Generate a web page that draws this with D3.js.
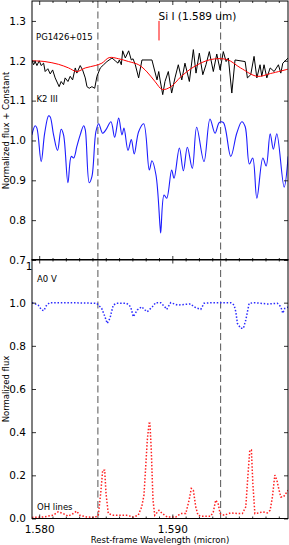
<!DOCTYPE html>
<html>
<head>
<meta charset="utf-8">
<script src="https://cdn.jsdelivr.net/npm/d3@7"></script>
<style>
body { margin: 0; background: #fff; }
text { font-family: "DejaVu Sans", sans-serif; fill: #000; }
</style>
</head>
<body>
<div id="chart"></div>
<script>
// PG1426+015 spectrum (black) and its smoothed version (red)
var pgWave = [1.57945,1.57958,1.57970,1.57983,1.58000,1.58015,1.58033,1.58045,1.58065,1.58083,
  1.58101,1.58120,1.58150,1.58165,1.58183,1.58195,1.58216,1.58233,1.58251,1.58271,
  1.58283,1.58308,1.58326,1.58346,1.58359,1.58376,1.58396,1.58417,1.58434,1.58459,
  1.58484,1.58509,1.58547,1.58571,1.58592,1.58602,1.58617,1.58627,1.58647,1.58672,
  1.58692,1.58705,1.58722,1.58747,1.58772,1.58847,1.58885,1.58898,1.58908,1.58928,
  1.58945,1.58970,1.58995,1.59020,1.59045,1.59071,1.59095,1.59128,1.59158,1.59178,
  1.59203,1.59229,1.59253,1.59278,1.59308,1.59334,1.59359,1.59383,1.59404,1.59421,
  1.59447,1.59471,1.59547,1.59564,1.59589,1.59614,1.59635,1.59659,1.59672,1.59689,
  1.59710,1.59735,1.59765,1.59797,1.59815,1.59830,1.59855,1.59870];
var pgFlux = [1.202,1.190,1.198,1.188,1.200,1.188,1.194,1.173,1.180,1.167,
  1.177,1.157,1.135,1.148,1.140,1.157,1.148,1.161,1.152,1.182,
  1.169,1.188,1.177,1.157,1.135,1.131,1.135,1.131,1.161,1.182,
  1.190,1.198,1.207,1.200,1.194,1.202,1.190,1.225,1.207,1.225,
  1.202,1.205,1.190,1.157,1.202,1.202,1.152,1.173,1.152,1.115,
  1.148,1.173,1.119,1.157,1.190,1.152,1.194,1.148,1.228,1.169,
  1.219,1.165,1.190,1.223,1.173,1.217,1.177,1.223,1.198,1.207,
  1.119,1.202,1.198,1.157,1.165,1.211,1.157,1.190,1.161,1.190,
  1.157,1.182,1.173,1.190,1.169,1.194,1.202,1.207];

var smoothWave = [1.57945,1.58043,1.58146,1.58221,1.58283,1.58346,1.58421,1.58471,1.58526,1.58597,
  1.58672,1.58747,1.58810,1.58872,1.58925,1.58990,1.59065,1.59163,1.59287,1.59411,
  1.59513,1.59637,1.59738,1.59870];
var smoothFlux = [1.200,1.198,1.191,1.182,1.173,1.182,1.188,1.194,1.208,1.205,
  1.198,1.190,1.172,1.147,1.128,1.135,1.160,1.185,1.203,1.203,
  1.182,1.161,1.168,1.179];

// K2 III template (blue)
var k2Wave = [1.57945,1.57970,1.57983,1.58015,1.58041,1.58071,1.58083,1.58108,1.58138,1.58165,
  1.58183,1.58216,1.58241,1.58259,1.58283,1.58308,1.58334,1.58346,1.58376,1.58396,
  1.58426,1.58447,1.58477,1.58502,1.58539,1.58567,1.58597,1.58622,1.58637,1.58667,
  1.58692,1.58714,1.58747,1.58785,1.58827,1.58847,1.58877,1.58908,1.58913,1.58938,
  1.58958,1.58995,1.59013,1.59053,1.59083,1.59113,1.59150,1.59183,1.59238,1.59283,
  1.59321,1.59353,1.59383,1.59439,1.59484,1.59522,1.59547,1.59579,1.59604,1.59635,
  1.59680,1.59705,1.59735,1.59759,1.59785,1.59840,1.59870];
var k2Flux = [1.014,1.037,1.031,0.947,1.018,1.062,1.059,1.014,0.975,1.028,
  1.014,0.894,0.960,0.956,0.985,1.014,1.037,1.027,0.894,0.909,
  1.022,1.042,1.018,1.027,1.047,1.008,1.056,1.014,1.031,0.975,
  1.002,0.966,1.022,1.042,0.926,0.949,0.914,0.784,0.768,0.863,
  0.855,0.926,0.905,0.981,0.924,0.983,0.930,1.033,0.947,1.054,
  1.018,1.045,1.045,0.960,1.018,1.047,1.035,0.941,0.956,0.855,
  0.956,0.936,1.017,0.978,1.017,0.883,0.960];

// A0 V telluric standard (blue dotted)
var a0Wave = [1.57945,1.57992,1.58018,1.58035,1.58056,1.58080,1.58231,1.58432,1.58469,1.58494,
  1.58511,1.58532,1.58556,1.58582,1.58657,1.58687,1.58707,1.58737,1.58770,1.58795,
  1.58812,1.58850,1.58875,1.58913,1.58943,1.58958,1.58988,1.59038,1.59138,1.59163,
  1.59188,1.59214,1.59238,1.59289,1.59439,1.59464,1.59477,1.59489,1.59514,1.59534,
  1.59552,1.59577,1.59614,1.59714,1.59789,1.59815,1.59830,1.59845,1.59870];
var a0Flux = [1.000,0.989,0.966,0.963,0.989,1.000,1.000,0.997,0.974,0.935,
  0.904,0.928,0.989,0.997,0.997,0.981,0.935,0.966,0.981,0.966,
  0.958,0.981,1.000,1.000,0.981,0.969,1.000,0.989,0.994,0.981,
  0.974,0.969,0.997,1.000,1.000,0.989,0.958,0.904,0.881,0.881,
  0.920,0.997,1.000,0.994,0.997,0.981,0.951,0.974,0.979];

// OH sky lines (red dotted)
var ohWave = [1.57945,1.58030,1.58105,1.58143,1.58180,1.58218,1.58256,1.58281,1.58306,1.58356,
  1.58419,1.58444,1.58462,1.58477,1.58492,1.58502,1.58519,1.58556,1.58607,1.58657,
  1.58707,1.58744,1.58770,1.58787,1.58800,1.58812,1.58825,1.58832,1.58842,1.58855,
  1.58868,1.58900,1.58925,1.58962,1.59026,1.59063,1.59101,1.59126,1.59143,1.59158,
  1.59176,1.59193,1.59226,1.59289,1.59308,1.59326,1.59344,1.59359,1.59389,1.59439,
  1.59489,1.59526,1.59552,1.59569,1.59582,1.59594,1.59605,1.59620,1.59652,1.59677,
  1.59714,1.59735,1.59752,1.59770,1.59785,1.59802,1.59815,1.59835,1.59853,1.59870];
var ohFlux = [0.005,0.007,0.015,0.031,0.023,0.011,0.023,0.034,0.015,0.007,
  0.005,0.015,0.116,0.224,0.224,0.116,0.023,0.015,0.015,0.015,
  0.007,0.015,0.054,0.108,0.239,0.363,0.441,0.441,0.317,0.085,
  0.015,0.038,0.023,0.007,0.007,0.023,0.023,0.085,0.139,0.131,
  0.054,0.015,0.011,0.011,0.031,0.085,0.070,0.023,0.015,0.026,
  0.023,0.023,0.054,0.209,0.317,0.317,0.162,0.023,0.026,0.031,
  0.026,0.038,0.100,0.201,0.178,0.131,0.100,0.100,0.116,0.131];

var xLimits = [1.57946, 1.59869];
var xMajorTicks = [1.580, 1.590];
var xTickLabels = ["1.580", "1.590"];
var dashedLines = [1.58441, 1.59363];
var siLine = 1.589;
var topYTicks = [0.7, 0.8, 0.9, 1.0, 1.1, 1.2, 1.3];
var botYTicks = [0.0, 0.2, 0.4, 0.6, 0.8, 1.0];

var width = 289, height = 545;
var left = 32, right = 288;

var svg = d3.select("#chart").append("svg")
  .attr("width", width).attr("height", height);

var x = d3.scaleLinear().domain(xLimits).range([left, right]);
var xMinor = d3.range(1.579, 1.5995, 0.001)
  .filter(function(d) { return d > xLimits[0] && d < xLimits[1] && Math.abs(d*100 - Math.round(d*100)) > 1e-6; });

var yTop = d3.scaleLinear().domain([0.7, 1.35]).range([260, 1]);
var yBot = d3.scaleLinear().domain([0, 1.2]).range([518.5, 259.5]);

function zip(a, b) { return a.map(function(d, i) { return [d, b[i]]; }); }

function panel(y, id) {
  var top = y.range()[1], bot = y.range()[0];
  svg.append("clipPath").attr("id", id).append("rect")
    .attr("x", left).attr("y", top).attr("width", right - left).attr("height", bot - top);
  var g = svg.append("g").attr("clip-path", "url(#" + id + ")");
  return g;
}

function drawAxes(y, yTicks, showX) {
  var top = y.range()[1], bot = y.range()[0];
  // x ticks inward, bottom and top
  [[d3.axisBottom, top, 4, 2], [d3.axisTop, bot, 4, 2]].forEach(function(a) {
    var g = svg.append("g").attr("transform", "translate(0," + a[1] + ")");
    g.call(a[0](x).tickValues(xMajorTicks).tickSize(a[2]).tickFormat(""));
    g.append("g").call(a[0](x).tickValues(xMinor).tickSize(a[3]).tickFormat(""));
    g.selectAll(".domain").remove();
    g.selectAll("line").attr("stroke", "#000").attr("stroke-width", 0.8);
  });
  if (showX) {
    var gl = svg.append("g").attr("transform", "translate(0," + bot + ")");
    gl.call(d3.axisBottom(x).tickValues(xMajorTicks).tickSize(0).tickPadding(7)
      .tickFormat(function(d, i) { return xTickLabels[i]; }));
    gl.selectAll(".domain").remove();
    gl.selectAll("text").attr("font-size", "10.5px").attr("font-family", "DejaVu Sans");
  }
  var gy = svg.append("g").attr("transform", "translate(" + left + ",0)");
  gy.call(d3.axisLeft(y).tickValues(yTicks).tickSizeInner(-4).tickSizeOuter(0).tickPadding(6)
    .tickFormat(d3.format(".1f")));
  gy.selectAll(".domain").remove();
  gy.selectAll("line").attr("stroke", "#000").attr("stroke-width", 0.8);
  gy.selectAll("text").attr("font-size", "10.5px").attr("font-family", "DejaVu Sans");
  var gr = svg.append("g").attr("transform", "translate(" + right + ",0)");
  gr.call(d3.axisRight(y).tickValues(yTicks).tickSizeInner(-4).tickSizeOuter(0).tickFormat(""));
  gr.selectAll(".domain").remove();
  gr.selectAll("line").attr("stroke", "#000").attr("stroke-width", 0.8);
  svg.append("rect").attr("x", left).attr("y", top).attr("width", right - left).attr("height", bot - top)
    .attr("fill", "none").attr("stroke", "#000").attr("stroke-width", 1);
}

// top panel
var gTop = panel(yTop, "clipTop");
var lineTop = d3.line().x(function(d) { return x(d[0]); }).y(function(d) { return yTop(d[1]); });

gTop.selectAll(".vdash").data(dashedLines).enter().append("line")
  .attr("x1", function(d) { return x(d); }).attr("x2", function(d) { return x(d); })
  .attr("y1", yTop.range()[1]).attr("y2", yTop.range()[0])
  .attr("stroke", "#555").attr("stroke-width", 1).attr("stroke-dasharray", "7,3.5");

gTop.append("path").datum(zip(k2Wave, k2Flux))
  .attr("d", lineTop.curve(d3.curveCatmullRom.alpha(0.5)))
  .attr("fill", "none").attr("stroke", "#1c1cff").attr("stroke-width", 1.1);
gTop.append("path").datum(zip(pgWave, pgFlux))
  .attr("d", lineTop.curve(d3.curveLinear))
  .attr("fill", "none").attr("stroke", "#000").attr("stroke-width", 1);
gTop.append("path").datum(zip(smoothWave, smoothFlux))
  .attr("d", lineTop.curve(d3.curveCatmullRom.alpha(0.5)))
  .attr("fill", "none").attr("stroke", "#ff0000").attr("stroke-width", 1);

gTop.append("line")
  .attr("x1", x(siLine)).attr("x2", x(siLine))
  .attr("y1", yTop(1.30)).attr("y2", yTop(1.251))
  .attr("stroke", "#ff0000").attr("stroke-width", 1);
svg.append("text").attr("x", x(siLine) - 0.5).attr("y", 20)
  .attr("font-size", "10.5px").text("Si I (1.589 um)");
svg.append("text").attr("x", 36).attr("y", 40).attr("font-size", "8.5px").text("PG1426+015");
svg.append("text").attr("x", 36.5).attr("y", 101.5).attr("font-size", "8.5px").text("K2 III");

drawAxes(yTop, topYTicks, false);

// bottom panel
var gBot = panel(yBot, "clipBot");
var lineBot = d3.line().x(function(d) { return x(d[0]); }).y(function(d) { return yBot(d[1]); });

gBot.selectAll(".vdash").data(dashedLines).enter().append("line")
  .attr("x1", function(d) { return x(d); }).attr("x2", function(d) { return x(d); })
  .attr("y1", yBot.range()[1]).attr("y2", yBot.range()[0])
  .attr("stroke", "#555").attr("stroke-width", 1).attr("stroke-dasharray", "7,3.5");

gBot.append("path").datum(zip(a0Wave, a0Flux))
  .attr("d", lineBot)
  .attr("fill", "none").attr("stroke", "#2a2aff").attr("stroke-width", 1.5)
  .attr("stroke-dasharray", "1.5,1.8");
gBot.append("path").datum(zip(ohWave, ohFlux))
  .attr("d", lineBot)
  .attr("fill", "none").attr("stroke", "#ff2020").attr("stroke-width", 1.5)
  .attr("stroke-dasharray", "1.5,1.8");

svg.append("text").attr("x", 37).attr("y", 282).attr("font-size", "8.5px").text("A0 V");
svg.append("text").attr("x", 37).attr("y", 509.5).attr("font-size", "8.5px").text("OH lines");

drawAxes(yBot, botYTicks, true);

// partly hidden 1.2 label of the lower panel
svg.append("text").attr("x", 32.5).attr("y", 269.5).attr("text-anchor", "end")
  .attr("font-size", "10.5px").text("1");

// axis titles
svg.append("text").attr("transform", "translate(8.5," + ((yTop.range()[0] + yTop.range()[1]) / 2) + ") rotate(-90)")
  .attr("text-anchor", "middle").attr("font-size", "8.5px").text("Normalized flux + Constant");
svg.append("text").attr("transform", "translate(8.5," + ((yBot.range()[0] + yBot.range()[1]) / 2) + ") rotate(-90)")
  .attr("text-anchor", "middle").attr("font-size", "8.5px").text("Normalized flux");
svg.append("text").attr("x", (left + right) / 2).attr("y", 542.5)
  .attr("text-anchor", "middle").attr("font-size", "8.5px").text("Rest-frame Wavelength (micron)");
</script>
</body>
</html>
